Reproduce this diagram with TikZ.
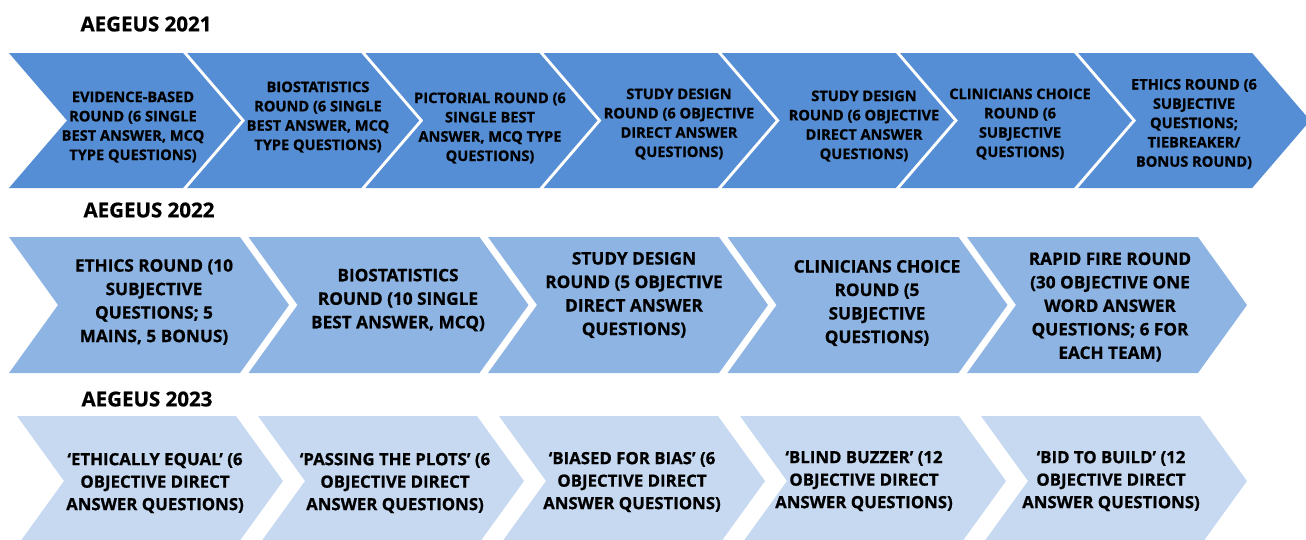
\documentclass[tikz,border=0pt]{standalone}
\usepackage{fontspec}
\setmainfont{Open Sans}[BoldFeatures={FakeBold=0.8}]
\definecolor{rowA}{HTML}{558ED5}
\definecolor{rowB}{HTML}{8EB4E3}
\definecolor{rowC}{HTML}{C6D9F1}
\newcommand\mychev[6]{% x, top, bottom, width, depth, colour
  \fill[#6] (#1,#2) -- ++(#4,0) -- ({#1+#4+#5},{(#2+#3)/2}) -- ({#1+#4},#3)
    -- (#1,#3) -- ({#1+#5},{(#2+#3)/2}) -- cycle;}
\tikzset{
  title/.style={font=\fontsize{20.5}{22}\selectfont\bfseries, inner sep=0pt},
  txtA/.style={font=\fontsize{14.6}{19.3}\selectfont\bfseries, align=center, inner sep=0pt},
  txtB/.style={font=\fontsize{17.2}{23.5}\selectfont\bfseries, align=center, inner sep=0pt},
  txtC/.style={font=\fontsize{16.8}{22.5}\selectfont\bfseries, align=center, inner sep=0pt},
}
\begin{document}
\begin{tikzpicture}[x=1pt,y=-1pt]
\useasboundingbox (0,0) rectangle (1306,539);
\clip (0,0) rectangle (1306,539);
% titles
\node[title] (t1) at (146,24) {AEGEUS 2021};
\node[title] (t2) at (149,210) {AEGEUS 2022};
\node[title] (t3) at (147,399) {AEGEUS 2023};
% row 1
\foreach \i in {0,...,6}{
  \mychev{9+178.2*\i}{53}{188}{174}{58}{rowA}
}
% row 2
\foreach \i in {0,...,4}{
  \mychev{9+239.5*\i}{237}{373}{231}{49}{rowB}
}
% row 3
\foreach \i in {0,...,4}{
  \mychev{17+241*\i}{416}{546}{219}{47}{rowC}
}
% row 1 texts
\node[txtA] (a1) at (133,127) {EVIDENCE-BASED\\ROUND (6 SINGLE\\BEST ANSWER, MCQ\\TYPE QUESTIONS)};
\node[txtA] (a2) at (318,117) {BIOSTATISTICS\\ROUND (6 SINGLE\\BEST ANSWER, MCQ\\TYPE QUESTIONS)};
\node[txtA] (a3) at (490,128) {PICTORIAL ROUND (6\\SINGLE BEST\\ANSWER, MCQ TYPE\\QUESTIONS)};
\node[txtA] (a4) at (679,124) {STUDY DESIGN\\ROUND (6 OBJECTIVE\\DIRECT ANSWER\\QUESTIONS)};
\node[txtA] (a5) at (864,126) {STUDY DESIGN\\ROUND (6 OBJECTIVE\\DIRECT ANSWER\\QUESTIONS)};
\node[txtA] (a6) at (1020,124) {CLINICIANS CHOICE\\ROUND (6\\SUBJECTIVE\\QUESTIONS)};
\node[txtA] (a7) at (1194,124) {ETHICS ROUND (6\\SUBJECTIVE\\QUESTIONS;\\TIEBREAKER/\\BONUS ROUND)};
% row 2 texts
\node[txtB] (b1) at (154,302) {ETHICS ROUND (10\\SUBJECTIVE\\QUESTIONS; 5\\MAINS, 5 BONUS)};
\node[txtB] (b2) at (398,300) {BIOSTATISTICS\\ROUND (10 SINGLE\\BEST ANSWER, MCQ)};
\node[txtB] (b3) at (634,295) {STUDY DESIGN\\ROUND (5 OBJECTIVE\\DIRECT ANSWER\\QUESTIONS)};
\node[txtB] (b4) at (877,303) {CLINICIANS CHOICE\\ROUND (5\\SUBJECTIVE\\QUESTIONS)};
\node[txtB] (b5) at (1110,307) {RAPID FIRE ROUND\\(30 OBJECTIVE ONE\\WORD ANSWER\\QUESTIONS; 6 FOR\\EACH TEAM)};
% row 3 texts
\node[txtC] (c1) at (155,483) {‘ETHICALLY EQUAL’ (6\\OBJECTIVE DIRECT\\ANSWER QUESTIONS)};
\node[txtC] (c2) at (395,483) {‘PASSING THE PLOTS’ (6\\OBJECTIVE DIRECT\\ANSWER QUESTIONS)};
\node[txtC] (c3) at (632,482) {‘BIASED FOR BIAS’ (6\\OBJECTIVE DIRECT\\ANSWER QUESTIONS)};
\node[txtC] (c4) at (864,481) {‘BLIND BUZZER’ (12\\OBJECTIVE DIRECT\\ANSWER QUESTIONS)};
\node[txtC] (c5) at (1111,481) {‘BID TO BUILD’ (12\\OBJECTIVE DIRECT\\ANSWER QUESTIONS)};
\end{tikzpicture}
\end{document}
